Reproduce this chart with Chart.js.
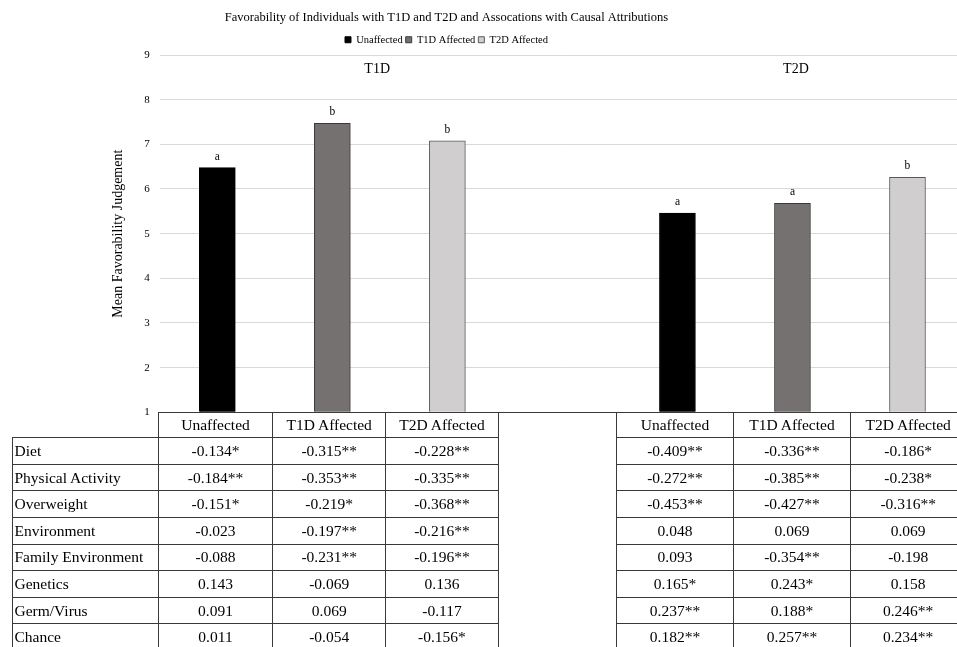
<!DOCTYPE html>
<html>
<head>
<meta charset="utf-8">
<title>Favorability of Individuals with T1D and T2D</title>
<script src="https://cdn.jsdelivr.net/npm/chart.js@4.4.1/dist/chart.umd.min.js"></script>
<style>
  html, body { margin: 0; padding: 0; background: #fff; overflow: hidden; }
  body { width: 957px; height: 647px; position: relative; font-family: 'Liberation Serif', 'Times New Roman', serif; }
  /* canvas is a bit wider than the window so the title sits where it does in the original */
  #chart-wrap { position: absolute; left: -72px; top: 0; width: 1037px; height: 430px; }
  #corr { position: absolute; left: 11.5px; top: 411.8px; width: 954px; border-collapse: collapse; table-layout: fixed; font-size: 15.5px; color: #000; z-index: 2; }
  #corr td { border: 1px solid #3a3a3a; padding: 0 2px; text-align: center; white-space: nowrap; overflow: hidden; }
  #corr td.lbl { text-align: left; }
  #corr td.none { border: none; }
  #corr td.gap { border-bottom: none; }
  #corr tr.head { height: 25.5px; }
  #corr tr.row { height: 26.6px; }
</style>
</head>
<body>
<div id="chart-wrap"><canvas id="fav-chart"></canvas></div>
<table id="corr">
  <colgroup>
    <col style="width:146.3px"><col style="width:114.4px"><col style="width:113px"><col style="width:112.6px">
    <col style="width:118.4px"><col style="width:116.6px"><col style="width:117.4px"><col style="width:115px">
  </colgroup>
  <tbody id="corr-body"></tbody>
</table>
<script>
// bar chart data
const groups = ['T1D', 'T2D'];
const seriesNames = ['Unaffected', 'T1D Affected', 'T2D Affected'];
const categories = ['Unaffected', 'T1D Affected', 'T2D Affected', '', 'Unaffected', 'T1D Affected', 'T2D Affected'];
const unaffectedMeans = [6.48, 5.46];
const t1dAffectedMeans = [7.47, 5.68];
const t2dAffectedMeans = [7.08, 6.26];
const unaffectedSig = ['a', 'a'];
const t1dAffectedSig = ['b', 'a'];
const t2dAffectedSig = ['b', 'b'];
const yMin = 1;
const yMax = 9;

// correlation table
const attributions = ['Diet', 'Physical Activity', 'Overweight', 'Environment', 'Family Environment', 'Genetics', 'Germ/Virus', 'Chance'];
const t1dUnaffectedCorr = ['-0.134*', '-0.184**', '-0.151*', '-0.023', '-0.088', '0.143', '0.091', '0.011'];
const t1dT1dCorr = ['-0.315**', '-0.353**', '-0.219*', '-0.197**', '-0.231**', '-0.069', '0.069', '-0.054'];
const t1dT2dCorr = ['-0.228**', '-0.335**', '-0.368**', '-0.216**', '-0.196**', '0.136', '-0.117', '-0.156*'];
const t2dUnaffectedCorr = ['-0.409**', '-0.272**', '-0.453**', '0.048', '0.093', '0.165*', '0.237**', '0.182**'];
const t2dT1dCorr = ['-0.336**', '-0.385**', '-0.427**', '0.069', '-0.354**', '0.243*', '0.188*', '0.257**'];
const t2dT2dCorr = ['-0.186*', '-0.238*', '-0.316**', '0.069', '-0.198', '0.158', '0.246**', '0.234**'];

// put a per-group value into its slot on the 7-category axis (slot 3 is the gap)
function slot(values, s) {
    return categories.map((c, i) => (i % 4 === s ? values[Math.floor(i / 4)] : null));
}

function buildTable() {
    const body = document.getElementById('corr-body');
    let html = '<tr class="head"><td class="none"></td>';
    html += seriesNames.map(n => `<td>${n}</td>`).join('');
    html += `<td class="gap" rowspan="${attributions.length + 1}"></td>`;
    html += seriesNames.map(n => `<td>${n}</td>`).join('') + '</tr>';
    attributions.forEach((a, i) => {
        const cells = [t1dUnaffectedCorr, t1dT1dCorr, t1dT2dCorr, t2dUnaffectedCorr, t2dT1dCorr, t2dT2dCorr].map(col => `<td>${col[i]}</td>`);
        html += `<tr class="row"><td class="lbl">${a}</td>${cells.join('')}</tr>`;
    });
    body.innerHTML = html;
}

const barLetters = {
    id: 'barLetters',
    afterDatasetsDraw(chart) {
        const ctx = chart.ctx;
        ctx.save();
        ctx.font = '11.5px "Liberation Serif"';
        ctx.fillStyle = '#000';
        ctx.textAlign = 'center';
        ctx.textBaseline = 'alphabetic';
        chart.data.datasets.forEach((ds, di) => {
            chart.getDatasetMeta(di).data.forEach((bar, i) => {
                if (ds.data[i] == null) return;
                ctx.fillText(ds.sig[i], bar.x, bar.y - 8);
            });
        });
        ctx.restore();
    }
};

const groupLabels = {
    id: 'groupLabels',
    afterDatasetsDraw(chart, args, opts) {
        const ctx = chart.ctx;
        const x = chart.scales.x;
        ctx.save();
        ctx.font = '14px "Liberation Serif"';
        ctx.fillStyle = '#000';
        ctx.textAlign = 'center';
        ctx.textBaseline = 'middle';
        groups.forEach((g, i) => {
            ctx.fillText(g, x.getPixelForValue(opts.at[i]), chart.chartArea.top + 14);
        });
        ctx.restore();
    }
};

function drawChart() {
    Chart.defaults.font.family = '"Liberation Serif", "Times New Roman", serif';
    Chart.defaults.color = '#000';
    const ctx = document.getElementById('fav-chart').getContext('2d');
    window.favChart = new Chart(ctx, {
        type: 'bar',
        data: {
            labels: categories,
            datasets: [
                { label: seriesNames[0], data: slot(unaffectedMeans, 0), sig: slot(unaffectedSig, 0), backgroundColor: '#000000', borderColor: '#000000' },
                { label: seriesNames[1], data: slot(t1dAffectedMeans, 1), sig: slot(t1dAffectedSig, 1), backgroundColor: '#767171', borderColor: '#3a3a3a' },
                { label: seriesNames[2], data: slot(t2dAffectedMeans, 2), sig: slot(t2dAffectedSig, 2), backgroundColor: '#d0cece', borderColor: '#595959' }
            ].map(d => Object.assign(d, { borderWidth: 1, grouped: false, barThickness: 36, base: yMin }))
        },
        plugins: [barLetters, groupLabels],
        options: {
            responsive: true,
            maintainAspectRatio: false,
            animation: false,
            layout: { padding: { left: 0, right: 0, top: 0, bottom: 17.7 } },
            plugins: {
                title: {
                    display: true,
                    text: 'Favorability of Individuals with T1D and T2D and Assocations with Causal Attributions',
                    font: { size: 12.5, weight: 'normal' },
                    color: '#000',
                    padding: { top: 10.5, bottom: 6 }
                },
                legend: {
                    labels: { boxWidth: 6, boxHeight: 6, padding: 3, font: { size: 10.5 }, color: '#000' }
                },
                tooltip: { enabled: false },
                groupLabels: { at: [1.39, 5.03] }
            },
            scales: {
                x: { display: false },
                y: {
                    min: yMin,
                    max: yMax,
                    ticks: { stepSize: 1, padding: 10, font: { size: 11 }, color: '#000' },
                    grid: { color: '#d9d9d9', drawTicks: false },
                    border: { display: false },
                    title: {
                        display: true,
                        text: 'Mean Favorability Judgement',
                        font: { size: 14 },
                        color: '#000',
                        padding: { top: 181.6, bottom: 4 }
                    },
                    afterFit(scale) { scale.width = 231.8; }
                }
            }
        }
    });
}

buildTable();
drawChart();
</script>
</body>
</html>
